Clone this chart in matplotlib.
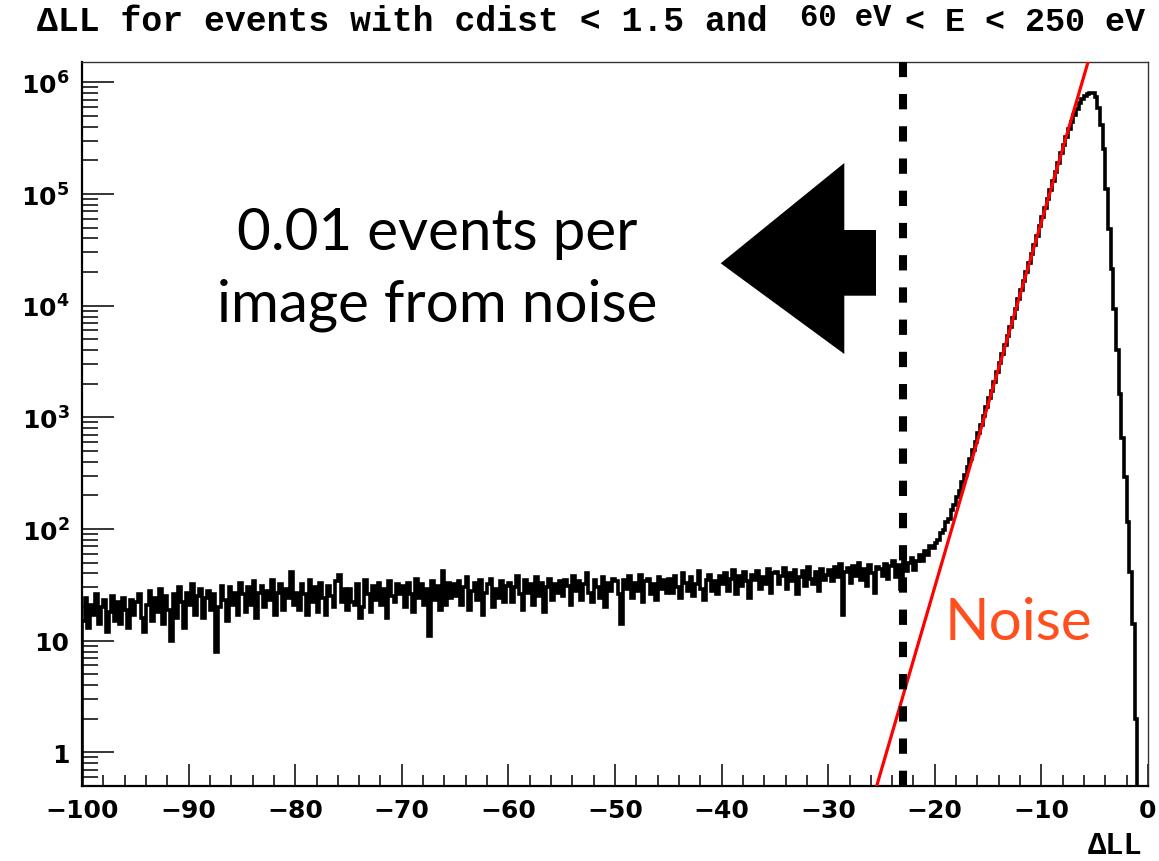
import numpy as np
import matplotlib
matplotlib.use("Agg")
import matplotlib.pyplot as plt
from matplotlib.ticker import FixedLocator, MultipleLocator, LogLocator, NullFormatter
from matplotlib.patches import Polygon

# ---------------- data ----------------
bin_lo, bin_hi, bin_w = -100.0, 0.0, 0.25

# flat noise region, -100 .. -25 (rows of 5 units, 0.25 bins)
counts_flat = [
    15, 24, 13, 21, 17, 26, 14, 20, 23, 12, 18, 25, 15, 22, 14, 24, 19, 13, 23, 17,
    22, 26, 16, 12, 21, 28, 15, 24, 18, 29, 14, 25, 19, 10, 26, 16, 30, 22, 13, 27,
    21, 32, 17, 25, 29, 16, 24, 28, 19, 26, 8, 20, 31, 23, 15, 30, 21, 27, 17, 33,
    26, 18, 30, 21, 34, 16, 27, 31, 20, 28, 23, 35, 17, 27, 32, 19, 29, 24, 41, 21,
    27, 19, 32, 26, 17, 35, 22, 30, 18, 33, 24, 17, 31, 25, 20, 34, 39, 22, 29, 19,
    29, 22, 21, 32, 16, 20, 35, 26, 18, 31, 23, 33, 21, 29, 16, 34, 25, 22, 32, 26,
    31, 20, 33, 26, 18, 36, 24, 32, 21, 29, 11, 34, 23, 31, 19, 42, 21, 33, 24, 32,
    25, 34, 21, 30, 37, 19, 28, 33, 23, 35, 17, 27, 32, 36, 20, 29, 24, 34, 22, 31,
    33, 22, 30, 38, 26, 19, 35, 27, 32, 21, 37, 25, 33, 18, 30, 36, 23, 32, 27, 34,
    25, 35, 31, 21, 38, 28, 34, 23, 32, 40, 27, 22, 35, 30, 24, 37, 20, 33, 28, 36,
    34, 26, 14, 35, 29, 38, 24, 33, 28, 39, 22, 34, 36, 26, 32, 23, 37, 29, 35, 27,
    36, 27, 38, 30, 24, 40, 33, 28, 37, 25, 32, 42, 29, 23, 35, 39, 28, 34, 26, 38,
    32, 40, 28, 36, 43, 26, 38, 31, 41, 34, 24, 39, 35, 42, 29, 37, 32, 44, 27, 40,
    41, 32, 38, 45, 29, 40, 34, 43, 26, 37, 42, 31, 46, 36, 32, 41, 28, 44, 35, 39,
    43, 34, 46, 37, 49, 17, 41, 45, 33, 47, 38, 50, 35, 44, 31, 48, 40, 27, 46, 44,
]

# signal peak region, -25 .. 0
counts_peak = [
    38, 49, 36, 47, 52, 37, 48, 29, 54, 42, 50, 55, 43, 52, 58, 52, 64, 58, 70, 68,
    75, 80, 93, 98, 116, 124, 148, 163, 195, 220, 262, 304, 362, 424, 508, 600, 720, 856, 1030, 1228,
    1477, 1732, 2091, 2523, 3046, 3676, 4437, 5358, 6466, 7805, 9420, 11376, 13730, 16570, 20000, 24155,
    29150, 35190, 42470, 51286,
    61900, 74700, 90200, 108900, 131400, 158600, 191400, 231000, 276000, 325000, 385000, 445000,
    510000, 580000, 650000, 710000, 755000, 785000, 800000, 795000,
    740000, 590000, 417000, 251000, 111000, 49000, 21400, 9300, 3970, 1630, 660, 290, 115, 41, 14, 2,
    0, 0, 0, 0,
]

# exponential "Noise" fit, two points of the fitted straight line (log scale)
fit_x = [-25.8, -5.4]
fit_y = [0.385, 1.8e6]

cut_x = -23.0

x_ticks = [-100, -90, -80, -70, -60, -50, -40, -30, -20, -10, 0]
y_ticks = [1, 10, 100, 1e3, 1e4, 1e5, 1e6]
y_ticklabels = ["1", "10", r"$\mathbf{10^{2}}$", r"$\mathbf{10^{3}}$", r"$\mathbf{10^{4}}$",
                r"$\mathbf{10^{5}}$", r"$\mathbf{10^{6}}$"]

# ---------------- figure ----------------
W, H = 1159, 862
fig = plt.figure(figsize=(W / 100, H / 100), dpi=100)
plt.rcParams['mathtext.fontset'] = 'dejavusans'

ax_l, ax_r, ax_t, ax_b = 82, 1148, 62.7, 787
ax = fig.add_axes([ax_l / W, 1 - ax_b / H, (ax_r - ax_l) / W, (ax_b - ax_t) / H])

counts = np.array(counts_flat + counts_peak, dtype=float)
edges = np.linspace(bin_lo, bin_hi, len(counts) + 1)
ax.stairs(np.maximum(counts, 1e-3), edges, color="black", lw=2.6, zorder=3)

ax.plot(fit_x, fit_y, color="#ff0000", lw=2.3, zorder=4, solid_capstyle="butt")

ax.axvline(cut_x, color="black", lw=5.8, dashes=(1.9, 2.1), dash_capstyle="butt", zorder=5)

ax.set_yscale("log")
ax.set_xlim(bin_lo, bin_hi)
ax.set_ylim(0.5, 1.53e6)

ax.xaxis.set_major_locator(FixedLocator(x_ticks))
ax.xaxis.set_minor_locator(MultipleLocator(2))
ax.set_xticklabels([("\u2212%d" % -v) if v < 0 else "%d" % v for v in x_ticks])
ax.yaxis.set_major_locator(FixedLocator(y_ticks))
ax.yaxis.set_minor_locator(LogLocator(base=10, subs=np.arange(2, 10)))
ax.yaxis.set_minor_formatter(NullFormatter())
ax.set_yticklabels(y_ticklabels)

ax.tick_params(axis="y", which="major", direction="in", length=23, width=1.1, pad=9,
               labelsize=18, left=True, right=False)
ax.tick_params(axis="y", which="minor", direction="in", length=11.5, width=1.1, left=True, right=False)
ax.tick_params(axis="x", which="major", direction="in", length=16, width=1.1, pad=9,
               labelsize=18, bottom=True, top=False)
ax.tick_params(axis="x", which="minor", direction="in", length=8, width=1.1, bottom=True, top=False)
for lab in ax.get_xticklabels() + ax.get_yticklabels():
    lab.set_fontweight("bold")
    lab.set_family("DejaVu Sans")

for s in ["left", "bottom"]:
    ax.spines[s].set_linewidth(1.6)
for s in ["top", "right"]:
    ax.spines[s].set_linewidth(1.0)
    ax.spines[s].set_color("#333333")

# title pieces (ROOT style, Courier bold)
mono = "Liberation Mono"
fig.text(37 / W, 1 - 31 / H, "\u0394LL for events with cdist < 1.5 and", family=mono,
         weight="bold", fontsize=25, va="baseline", ha="left")
fig.text(800 / W, 1 - 26 / H, "60 eV", family=mono, weight="bold", fontsize=22,
         va="baseline", ha="left")
fig.text(905 / W, 1 - 31 / H, "< E < 250 eV", family=mono, weight="bold", fontsize=24,
         va="baseline", ha="left")

# x axis label
fig.text(1143 / W, 1 - 854 / H, "\u0394LL", family=mono, weight="bold", fontsize=22,
         va="baseline", ha="right")

# annotation text
fig.text(437 / W, 1 - 250 / H, "0.01 events per", family="Lato", fontsize=42,
         va="baseline", ha="center")
fig.text(437 / W, 1 - 322 / H, "image from noise", family="Lato", fontsize=42,
         va="baseline", ha="center")
fig.text(945 / W, 1 - 640 / H, "Noise", family="Lato", fontsize=42, color="#ff4f1f",
         va="baseline", ha="left")

# big arrow (figure pixel geometry)
arrow_px = [(720.7, 264.3), (844.3, 164), (844.3, 231), (876, 231), (876, 296.7),
            (844.3, 296.7), (844.3, 355)]
arrow = Polygon([(x / W, 1 - y / H) for x, y in arrow_px], closed=True,
                transform=fig.transFigure, facecolor="black", edgecolor="none", zorder=6)
fig.patches.append(arrow)

fig.savefig("out.png", dpi=100)
